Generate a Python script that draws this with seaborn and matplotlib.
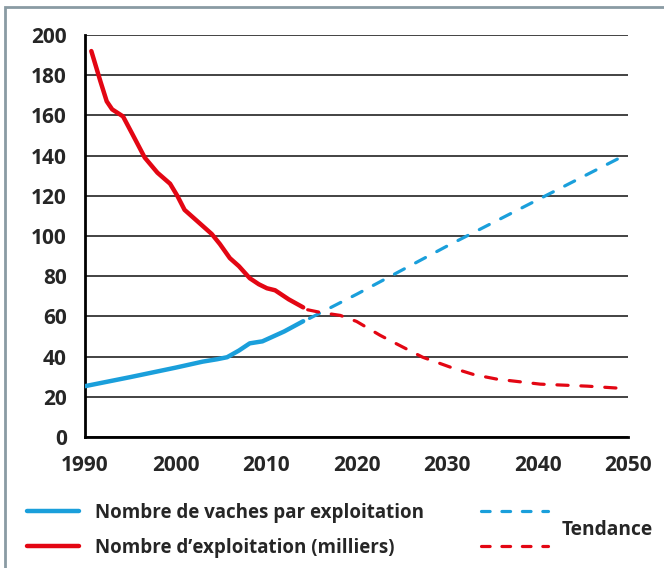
import numpy as np
import pandas as pd
import matplotlib.pyplot as plt
import seaborn as sns
from matplotlib.lines import Line2D

# observed data
annees_exploit = [1990.7, 1991.7, 1992.4, 1993.0, 1994.2, 1995.2, 1996.6, 1998.0, 1999.4,
                  2000.2, 2001.0, 2002.5, 2004.0, 2004.9, 2006.0, 2007.0, 2008.2, 2009.2,
                  2010.1, 2011.0, 2012.5, 2014.1]
exploitations = [192, 177, 167, 163, 159.5, 151, 139, 131.5, 126, 120, 113, 107, 101, 96,
                 89, 85, 79, 76, 74, 73, 68.5, 64.5]
annees_vaches = [1990, 1995, 2000, 2003, 2004.6, 2005.7, 2007, 2008.2, 2009.6, 2012, 2014.1]
vaches = [25.3, 29.8, 34.5, 37.5, 38.7, 39.7, 43, 46.6, 47.6, 52.5, 57.6]

# tendance
annees_tend_vaches = [2014.8, 2020, 2030, 2040, 2050]
tend_vaches = [59, 71, 95, 118, 141]
annees_tend_exploit = [2014.6, 2016, 2018.2, 2020, 2022.6, 2025, 2027.3, 2030.7, 2033,
                       2035.5, 2040.3, 2045.5, 2050]
tend_exploit = [63.3, 62, 60.5, 57.5, 50.6, 45, 39.7, 34.2, 31, 28.8, 26.3, 25.3, 24]

bleu = '#1a9fdb'
rouge = '#e30613'

sns.set_style('white')
plt.rcParams['font.family'] = ['Open Sans', 'DejaVu Sans']

fig = plt.figure(figsize=(6.64, 5.68), dpi=100)
ax = fig.add_axes([0.128, 0.2306, 0.818, 0.7078])

vaches_df = pd.DataFrame({'annee': annees_vaches, 'val': vaches})
exploit_df = pd.DataFrame({'annee': annees_exploit, 'val': exploitations})
tv_df = pd.DataFrame({'annee': annees_tend_vaches, 'val': tend_vaches})
te_df = pd.DataFrame({'annee': annees_tend_exploit, 'val': tend_exploit})

sns.lineplot(data=tv_df, x='annee', y='val', ax=ax, color=bleu, lw=2.3, zorder=3)
ax.lines[-1].set(dashes=(3.5, 4), dash_capstyle='round')
sns.lineplot(data=te_df, x='annee', y='val', ax=ax, color=rouge, lw=2.3, zorder=3)
ax.lines[-1].set(dashes=(3.5, 4), dash_capstyle='round')
sns.lineplot(data=vaches_df, x='annee', y='val', ax=ax, color=bleu, lw=3.2, zorder=4)
sns.lineplot(data=exploit_df, x='annee', y='val', ax=ax, color=rouge, lw=3.2, zorder=4)
for l in ax.lines:
    l.set_solid_capstyle('round')
    l.set_solid_joinstyle('round')

ax.set_xlim(1990, 2050)
ax.set_ylim(0, 200)
ax.set_xticks(range(1990, 2051, 10))
ax.set_yticks(range(0, 201, 20))
ax.set_xlabel('')
ax.set_ylabel('')
ax.grid(axis='y', color='#222222', lw=1.2)
ax.set_axisbelow(True)
for s in ['top', 'right']:
    ax.spines[s].set_visible(False)
for s in ['left', 'bottom']:
    ax.spines[s].set_color('black')
    ax.spines[s].set_linewidth(2)
ax.tick_params(axis='y', length=7, width=1.2, color='#222222', pad=6, labelsize=15)
ax.tick_params(axis='x', length=7, width=2, color='black', pad=6, labelsize=15)
for t in ax.get_xticklabels() + ax.get_yticklabels():
    t.set_fontweight('bold')

# legende
h1 = [Line2D([], [], color=bleu, lw=3.2, solid_capstyle='round'),
      Line2D([], [], color=rouge, lw=3.2, solid_capstyle='round')]
leg1 = fig.legend(h1, ['Nombre de vaches par exploitation', "Nombre d\u2019exploitation (milliers)"],
                  loc='upper left', bbox_to_anchor=(0.041, 0.115), frameon=False,
                  borderpad=0, borderaxespad=0,
                  handlelength=2.75, handletextpad=0.87, labelspacing=0.8,
                  prop={'weight': 'bold', 'size': 13.5})
h2 = [Line2D([], [], color=bleu, lw=2.3, dashes=(2.7, 3.7), dash_capstyle='round'),
      Line2D([], [], color=rouge, lw=2.3, dashes=(2.7, 3.7), dash_capstyle='round')]
leg2 = fig.legend(h2, ['', ''], loc='upper left', bbox_to_anchor=(0.725, 0.115), frameon=False,
                  borderpad=0, borderaxespad=0,
                  handlelength=3.55, handletextpad=0, labelspacing=0.8,
                  prop={'weight': 'bold', 'size': 13.5})
fig.text(0.846, 0.067, 'Tendance', fontsize=13.8, fontweight='bold', va='center')

fig.patches.append(plt.Rectangle((0.008, -0.01), 1.0, 0.998, transform=fig.transFigure,
                                 fill=False, edgecolor='#8a9ba3', lw=2))

fig.savefig('out.png', dpi=100)
